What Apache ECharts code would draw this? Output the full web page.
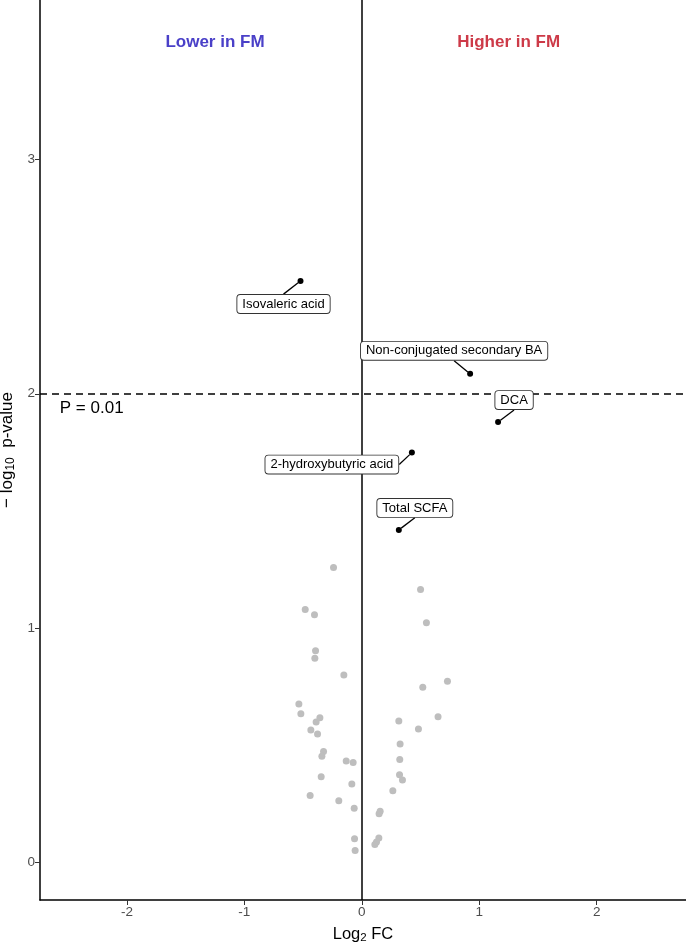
<!DOCTYPE html>
<html>
<head>
<meta charset="utf-8">
<title>Volcano plot FM</title>
<script src="https://cdn.jsdelivr.net/npm/echarts@6/dist/echarts.min.js"></script>
<style>
  html, body { margin: 0; padding: 0; background: #fff; }
  #chart { width: 686px; height: 945px; }
</style>
</head>
<body>
<div id="chart"></div>
<script>
// not significant metabolites (grey): log2 FC and -log10 p
const greyLfc = [-0.241, -0.482, -0.403, -0.394, -0.400, -0.153, -0.536, -0.519, -0.357, -0.389,
                 -0.434, -0.377, -0.326, -0.340, -0.133, -0.074, -0.346, -0.085, -0.440, -0.196,
                 -0.065, -0.062, -0.057,
                 0.500, 0.550, 0.729, 0.519, 0.649, 0.315, 0.482, 0.326, 0.323, 0.321,
                 0.346, 0.264, 0.156, 0.147, 0.145, 0.125, 0.111];
const greyP = [1.259, 1.080, 1.057, 0.904, 0.872, 0.800, 0.676, 0.635, 0.618, 0.600,
               0.565, 0.548, 0.474, 0.453, 0.433, 0.427, 0.366, 0.335, 0.286, 0.263,
               0.231, 0.101, 0.051,
               1.165, 1.023, 0.773, 0.748, 0.622, 0.604, 0.570, 0.506, 0.439, 0.374,
               0.352, 0.306, 0.219, 0.208, 0.105, 0.087, 0.077];

// labelled metabolites
const hitNames = ['Isovaleric acid', 'Non-conjugated secondary BA', 'DCA', '2-hydroxybutyric acid', 'Total SCFA'];
const hitLfc = [-0.522, 0.922, 1.160, 0.426, 0.315];
const hitP = [2.481, 2.085, 1.879, 1.749, 1.419];

// annotations
const sideLabels = ['Lower in FM', 'Higher in FM'];
const sideX = [-1.25, 1.25];
const sideY = 3.5;
const pText = 'P = 0.01';
const pTextX = -2.3;
const pTextY = 1.94;
const pCutoff = 2; // -log10(0.01)

const xTicks = [-2, -1, 0, 1, 2];
const yTicks = [0, 1, 2, 3];

// label nudges (px) for the repelled labels
const labelShift = [[-17, 23], [-16, -23], [16, -22], [-80, 12], [16, -22]];
const sideColors = ['#4A40C8', '#CD3A48'];

const FONT = 'Liberation Sans, Arial, sans-serif';

const chart = echarts.init(document.getElementById('chart'));

chart.setOption({
    animation: false,
    grid: {
        left: 40,
        right: 0,
        top: 0,
        bottom: 45,
        containLabel: false,
        outerBoundsMode: 'none'
    },
    xAxis: {
        type: 'value',
        min: -2.74,
        max: 2.76,
        splitLine: { show: false },
        axisLine: { onZero: false, lineStyle: { color: '#000', width: 1.5 } },
        axisTick: { customValues: xTicks, length: 5, lineStyle: { color: '#333', width: 1 } },
        axisLabel: { customValues: xTicks, color: '#4d4d4d', fontSize: 13.5, margin: 5, fontFamily: FONT },
        name: 'Log{sub|2} FC',
        nameLocation: 'middle',
        nameGap: 25,
        nameTextStyle: {
            color: '#000', fontSize: 16.5, fontFamily: FONT,
            rich: { sub: { fontSize: 11.5, fontFamily: FONT, padding: [7, 0, 0, 0] } }
        }
    },
    yAxis: {
        type: 'value',
        min: -0.16,
        max: 3.68,
        splitLine: { show: false },
        axisLine: { onZero: false, lineStyle: { color: '#000', width: 1.5 } },
        axisTick: { customValues: yTicks, length: 5, lineStyle: { color: '#333', width: 1 } },
        axisLabel: { customValues: yTicks, color: '#4d4d4d', fontSize: 13.5, margin: 5, fontFamily: FONT },
        name: '\u2212 log{sub|10}  p-value',
        nameLocation: 'middle',
        nameGap: 19,
        nameRotate: 90,
        nameTextStyle: {
            color: '#000', fontSize: 17, fontFamily: FONT,
            rich: { sub: { fontSize: 12, fontFamily: FONT, padding: [7, 0, 0, 0] } }
        }
    },
    series: [
        {
            name: 'ns',
            type: 'scatter',
            z: 1,
            symbolSize: 7,
            itemStyle: { color: '#BEBEBE', opacity: 1 },
            data: greyLfc.map((x, i) => [x, greyP[i]]),
            markLine: {
                z: 1,
                silent: true,
                symbol: 'none',
                label: { show: false },
                data: [
                    { yAxis: pCutoff, lineStyle: { type: [7, 5], color: '#000', width: 1.5 } },
                    { xAxis: 0, lineStyle: { type: 'solid', color: '#000', width: 1.5 } }
                ]
            }
        },
        {
            name: 'hits',
            type: 'scatter',
            z: 3,
            symbolSize: 6,
            itemStyle: { color: '#000', opacity: 1 },
            data: hitLfc.map((x, i) => ({ name: hitNames[i], value: [x, hitP[i]] })),
            label: {
                show: true,
                position: 'inside',
                formatter: '{b}',
                color: '#000',
                fontSize: 13,
                fontFamily: FONT,
                backgroundColor: '#fff',
                borderColor: '#333',
                borderWidth: 0.9,
                borderRadius: 3,
                padding: [3, 5, 2, 5]
            },
            labelLine: {
                show: true,
                lineStyle: { color: '#000', width: 1.3 }
            },
            labelLayout: function (params) {
                const s = labelShift[params.dataIndex];
                return { dx: s[0], dy: s[1] };
            }
        },
        {
            name: 'annot',
            type: 'scatter',
            z: 4,
            silent: true,
            symbolSize: 1,
            itemStyle: { color: 'transparent', opacity: 1 },
            data: sideLabels.map((t, i) => ({
                name: t,
                value: [sideX[i], sideY],
                label: { color: sideColors[i], fontWeight: 'bold', fontSize: 17 }
            })).concat([{
                name: pText,
                value: [pTextX, pTextY],
                label: { color: '#000', fontSize: 17 }
            }]),
            label: {
                show: true,
                position: 'inside',
                formatter: '{b}',
                fontFamily: FONT
            }
        }
    ]
});
</script>
</body>
</html>
